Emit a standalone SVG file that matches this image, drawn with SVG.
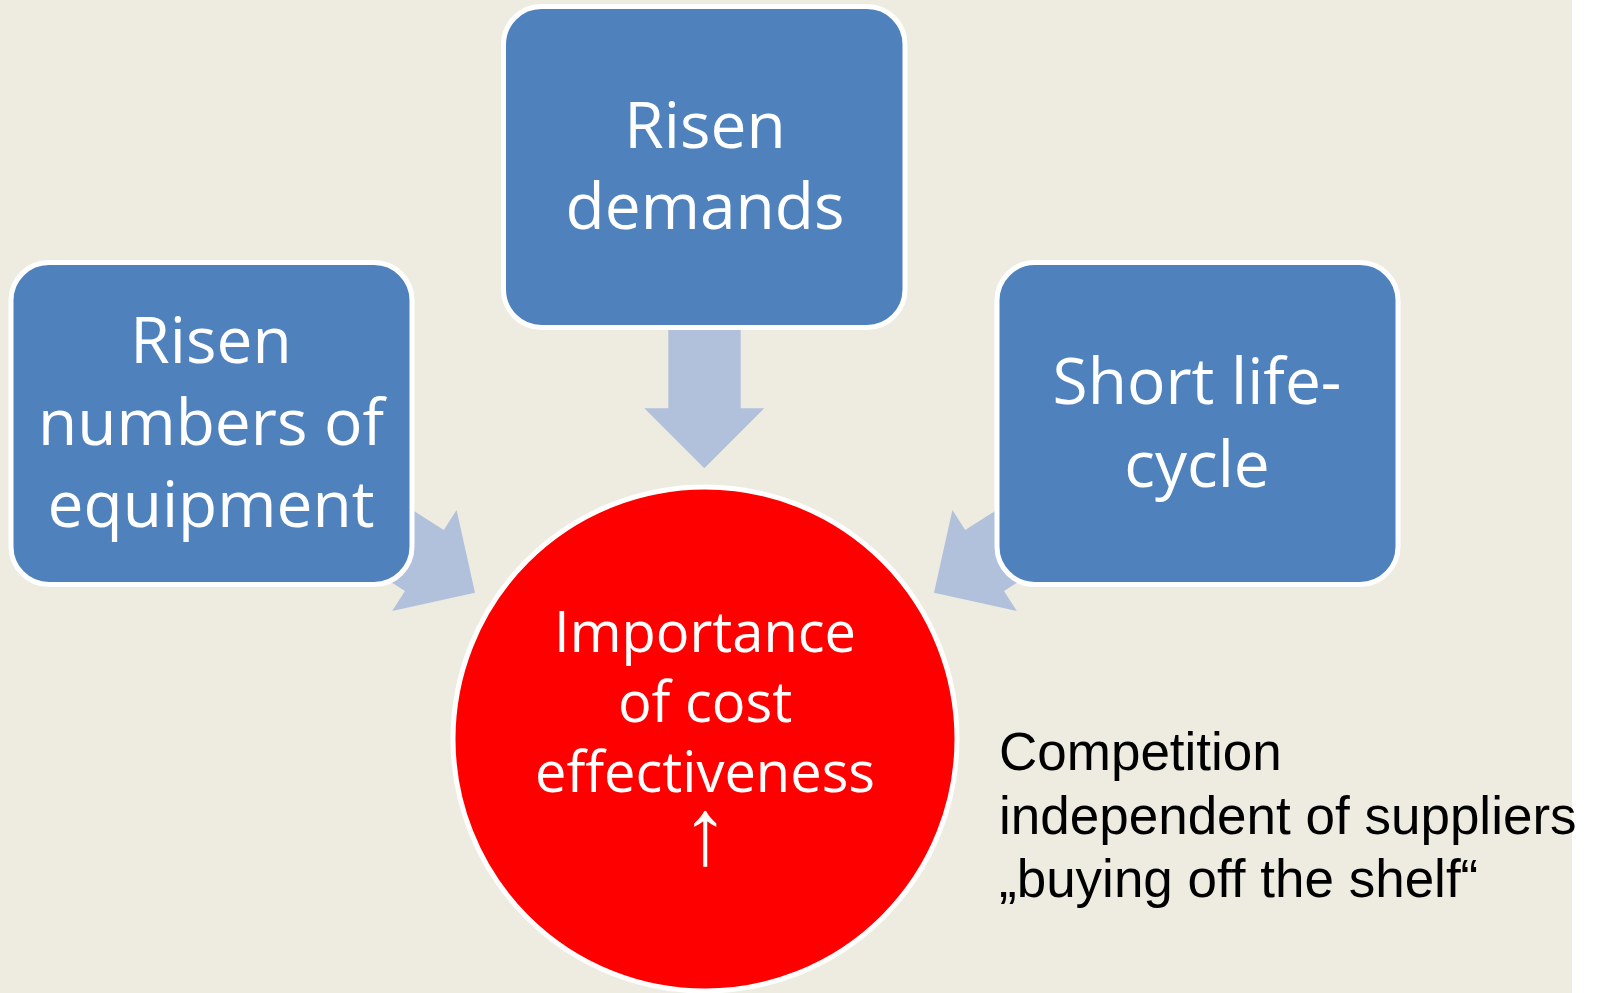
<svg xmlns="http://www.w3.org/2000/svg" width="1598" height="993" viewBox="0 0 1598 993">
  <style>
    .box { fill: #4F81BD; stroke: #FFFFFF; stroke-width: 5; }
    .arrow { fill: #B1C1DB; stroke: none; }
    .btxt { font-family: "Open Sans", "Noto Sans", sans-serif; font-size: 64px; fill: #FFFFFF; text-anchor: middle; }
    .ctxt { font-family: "Open Sans", "Noto Sans", sans-serif; font-size: 56px; fill: #FFFFFF; text-anchor: middle; }
    .up { font-family: "Liberation Sans", sans-serif; font-size: 94px; }
    .note { font-family: "Liberation Sans", Arial, sans-serif; font-size: 53px; fill: #000000; }
  </style>
  <rect x="0" y="0" width="1598" height="993" fill="#FFFFFF"/>
  <rect x="0" y="0" width="1572" height="993" fill="#EEECE1"/>

  <g id="connectors">
    <polygon class="arrow" points="668.3,300 740.7,300 740.7,408.3 764.3,408.3 704.3,468.3 644.3,408.3 668.3,408.3"/>
    <polygon class="arrow" points="342.6,465.6 443.8,530 456.6,509.9 475,592.7 392.2,611.1 405,591 303.8,526.6"/>
    <polygon class="arrow" points="1066.4,465.6 965.2,530 952.4,509.9 934,592.7 1016.8,611.1 1004,591 1105.2,526.6"/>
  </g>

  <g id="node-equipment">
    <rect class="box" x="11" y="262.5" width="401" height="322" rx="38" ry="38"/>
    <text class="btxt"><tspan x="211" y="363">Risen</tspan><tspan x="211" y="445">numbers of</tspan><tspan x="211" y="527">equipment</tspan></text>
  </g>

  <g id="node-demands">
    <rect class="box" x="503.5" y="6.5" width="401.5" height="321" rx="38" ry="38"/>
    <text class="btxt"><tspan x="705" y="148">Risen</tspan><tspan x="705" y="229">demands</tspan></text>
  </g>

  <g id="node-lifecycle">
    <rect class="box" x="997" y="262.5" width="401" height="322" rx="38" ry="38"/>
    <text class="btxt"><tspan x="1197" y="404">Short life-</tspan><tspan x="1197" y="487">cycle</tspan></text>
  </g>

  <g id="node-cost">
    <circle cx="705" cy="739" r="252" fill="#FF0000" stroke="#FFFFFF" stroke-width="5"/>
    <text class="ctxt"><tspan x="705" y="652">Importance</tspan><tspan x="705" y="722">of cost</tspan><tspan x="705" y="792">effectiveness</tspan><tspan class="up" x="705" y="864">↑</tspan></text>
  </g>

  <g id="note">
    <text class="note"><tspan x="999" y="770">Competition</tspan><tspan x="999" y="833.5">independent of suppliers</tspan><tspan x="999" y="897">„buying off the shelf“</tspan></text>
  </g>
</svg>
